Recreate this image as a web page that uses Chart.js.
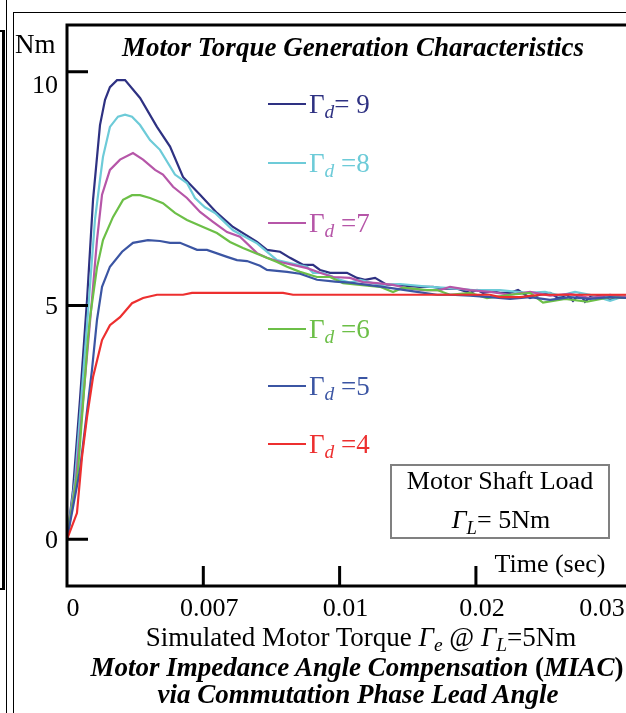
<!DOCTYPE html>
<html>
<head>
<meta charset="utf-8">
<script src="https://cdn.jsdelivr.net/npm/chart.js@4/dist/chart.umd.min.js"></script>
<style>
  body { margin: 0; overflow: hidden; background: #fff; }
  #wrap { position: relative; width: 626px; height: 713px; overflow: hidden; font-family: "Liberation Serif", "Times New Roman", serif; }
  canvas { position: absolute; left: 0; top: 0; }
  .t { position: absolute; white-space: nowrap; color: #000; font-size: 26px; line-height: 1; transform: translate(-50%, -50%); }
  .l { transform: translate(0, -50%); }
  .bi { font-weight: bold; font-style: italic; }
  sub { font-size: 0.72em; font-style: italic; vertical-align: -0.3em; line-height: 0; }
  .g { font-style: italic; }
  .vl { position: absolute; background: #000; }
  #box { position: absolute; left: 390px; top: 464px; width: 216px; height: 71px; border: 2px solid #808080; }
</style>
</head>
<body>
<div id="wrap">
  <canvas id="torqueChart" width="626" height="713"></canvas>

  <div class="vl" style="left:13px;top:12px;width:1px;height:701px"></div>
  <div class="vl" style="left:13px;top:12px;width:613px;height:1px"></div>
  <div class="vl" style="left:2px;top:30px;width:3px;height:560px"></div>
  <div class="vl" style="left:0;top:30px;width:5px;height:2px"></div>
  <div class="vl" style="left:0;top:588px;width:5px;height:2px"></div>
  <div class="vl" style="left:6px;top:0;width:1px;height:713px"></div>

  <div class="t l" style="left:15px;top:44px;font-size:27px">Nm</div>
  <div class="t bi" style="left:353px;top:47px;font-size:27px">Motor Torque Generation Characteristics</div>
  <div id="legend"></div>
  <div id="box"></div>
  <div class="t" style="left:500px;top:481px">Motor Shaft Load</div>
  <div class="t" style="left:501px;top:520px"><span class="g">Γ</span><sub>L</sub>= 5Nm</div>
  <div class="t" style="left:550px;top:564px">Time (sec)</div>
  <div class="t" style="left:361px;top:637px;font-size:27px">Simulated Motor Torque <span class="g">Γ</span><sub>e</sub> @ <span class="g">Γ</span><sub>L</sub>=5Nm</div>
  <div class="t bi" style="left:357px;top:667px;font-size:27px">Motor Impedance Angle Compensation <span style="font-style:normal">(</span>MIAC<span style="font-style:normal">)</span></div>
  <div class="t bi" style="left:358px;top:694px;font-size:27px">via Commutation Phase Lead Angle</div>
</div>

<script>
// x axis is drawn on even-ish spacing, labels as printed in the figure
const xTickPos = [0, 1, 2, 3, 3.88];
const xTickLabels = ['0', '0.007', '0.01', '0.02', '0.03'];
const yTicks = [0, 5, 10];

const gammaD = ['9', '8', '7', '6', '5', '4'];
const lineColors = ['#2e3182', '#6dcbd8', '#b656a8', '#6cbf47', '#3b55a3', '#ed2f2f'];

// [x position on axis, torque Nm]
const torque9 = [[0,0],[0.044,1.05],[0.095,2.98],[0.147,5.12],[0.191,7.26],[0.242,8.86],[0.279,9.40],[0.315,9.67],[0.367,9.82],[0.426,9.82],[0.536,9.44],[0.660,8.82],[0.756,8.40],[0.851,7.75],[0.976,7.37],[1.10,6.98],[1.218,6.68],[1.394,6.36],[1.467,6.19],[1.563,6.15],[1.636,6.02],[1.731,5.87],[1.805,5.87],[1.856,5.76],[1.930,5.70],[2.054,5.70],[2.128,5.59],[2.186,5.55],[2.260,5.59],[2.348,5.44],[2.443,5.44],[2.494,5.42],[2.590,5.40],[2.685,5.40],[2.759,5.36],[2.861,5.36],[2.957,5.27],[3.008,5.33],[3.052,5.27],[3.125,5.30],[3.177,5.27],[3.250,5.27],[3.309,5.33],[3.397,5.16],[3.470,5.23],[3.544,5.27],[3.602,5.16],[3.668,5.23],[3.712,5.10],[3.764,5.25],[3.800,5.08],[3.837,5.18],[3.911,5.21],[3.984,5.12],[4.035,5.16],[4.101,5.18]];
const torque8 = [[0,0],[0.059,1.27],[0.161,5.12],[0.205,6.83],[0.242,7.69],[0.264,8.18],[0.315,8.82],[0.374,9.04],[0.426,9.08],[0.477,9.04],[0.536,8.86],[0.609,8.54],[0.682,8.33],[0.792,7.80],[0.880,7.62],[0.939,7.30],[1.012,7.10],[1.086,6.98],[1.218,6.61],[1.394,6.33],[1.541,5.97],[1.636,5.91],[1.761,5.83],[1.805,5.70],[1.878,5.70],[2.003,5.55],[2.076,5.49],[2.150,5.55],[2.296,5.44],[2.443,5.46],[2.663,5.40],[2.810,5.37],[2.979,5.33],[3.177,5.33],[3.375,5.27],[3.507,5.29],[3.617,5.21],[3.727,5.29],[3.837,5.23],[3.984,5.10],[4.101,5.21]];
const torque7 = [[0,0],[0.066,1.27],[0.183,5.12],[0.220,6.40],[0.257,7.37],[0.315,7.90],[0.389,8.12],[0.484,8.26],[0.558,8.12],[0.646,7.90],[0.704,7.80],[0.778,7.54],[0.880,7.30],[0.976,7.00],[1.071,6.79],[1.174,6.57],[1.269,6.47],[1.394,6.12],[1.467,6.02],[1.563,5.93],[1.658,5.87],[1.761,5.80],[1.856,5.70],[1.952,5.61],[2.076,5.59],[2.172,5.50],[2.274,5.48],[2.392,5.44],[2.494,5.37],[2.612,5.33],[2.737,5.33],[2.810,5.40],[2.957,5.33],[3.103,5.29],[3.250,5.23],[3.397,5.29],[3.544,5.21],[3.690,5.25],[3.837,5.16],[3.984,5.23],[4.101,5.18]];
const torque6 = [[0,0],[0.081,1.48],[0.154,4.31],[0.169,4.74],[0.220,5.81],[0.264,6.40],[0.337,6.89],[0.411,7.26],[0.477,7.36],[0.536,7.36],[0.609,7.30],[0.704,7.19],[0.792,6.98],[0.880,6.83],[0.998,6.68],[1.100,6.55],[1.196,6.36],[1.291,6.23],[1.416,6.08],[1.541,5.93],[1.614,5.83],[1.709,5.72],[1.834,5.61],[1.930,5.61],[2.025,5.48],[2.150,5.44],[2.296,5.40],[2.392,5.29],[2.465,5.38],[2.641,5.33],[2.715,5.33],[2.810,5.23],[2.957,5.27],[3.081,5.16],[3.250,5.23],[3.397,5.27],[3.492,5.06],[3.654,5.14],[3.815,5.08],[3.984,5.18],[4.101,5.16]];
const torque5 = [[0,0],[0.095,1.48],[0.183,3.62],[0.220,4.69],[0.257,5.40],[0.315,5.83],[0.404,6.15],[0.484,6.34],[0.594,6.40],[0.682,6.38],[0.756,6.34],[0.829,6.34],[0.954,6.19],[1.027,6.19],[1.174,6.04],[1.247,5.97],[1.321,5.95],[1.416,5.85],[1.467,5.76],[1.614,5.72],[1.709,5.68],[1.834,5.55],[1.966,5.51],[2.076,5.49],[2.318,5.40],[2.568,5.29],[2.715,5.23],[2.810,5.23],[2.957,5.21],[3.103,5.18],[3.250,5.14],[3.397,5.18],[3.544,5.12],[3.690,5.18],[3.837,5.14],[3.984,5.18],[4.101,5.16]];
const torque4 = [[0,0],[0.073,0.56],[0.110,1.76],[0.147,2.62],[0.191,3.47],[0.257,4.26],[0.315,4.58],[0.389,4.75],[0.477,5.05],[0.558,5.16],[0.660,5.23],[0.851,5.23],[0.917,5.27],[1.416,5.27],[1.585,5.27],[1.658,5.23],[2.076,5.23],[2.810,5.23],[3.103,5.23],[3.177,5.18],[3.324,5.18],[3.470,5.23],[4.101,5.23]];

const allSeries = [torque9, torque8, torque7, torque6, torque5, torque4];

// frame, inner tick marks and y labels like the printed plot
const framePlugin = {
    id: 'frame',
    afterDraw(chart) {
        const { ctx, chartArea: a, scales: { x, y } } = chart;
        ctx.save();
        ctx.strokeStyle = '#000';
        ctx.lineWidth = 3;
        ctx.beginPath();
        ctx.moveTo(a.right + 5, a.top);
        ctx.lineTo(a.left, a.top);
        ctx.lineTo(a.left, a.bottom);
        ctx.lineTo(a.right + 5, a.bottom);
        yTicks.forEach(v => {
            const p = y.getPixelForValue(v);
            ctx.moveTo(a.left, p);
            ctx.lineTo(a.left + 21, p);
        });
        xTickPos.slice(1, 4).forEach(v => {
            const p = x.getPixelForValue(v);
            ctx.moveTo(p, a.bottom);
            ctx.lineTo(p, a.bottom - 20);
        });
        ctx.stroke();

        // the top label sits a little under its tick in the original
        ctx.fillStyle = '#000';
        ctx.font = '26px "Liberation Serif"';
        ctx.textAlign = 'right';
        ctx.textBaseline = 'middle';
        yTicks.forEach(v => {
            const p = y.getPixelForValue(v) + (v === 10 ? 14 : 2);
            ctx.fillText(String(v), a.left - 9, p);
        });
        ctx.restore();
    }
};

document.addEventListener('DOMContentLoaded', function () {
    const ctx = document.getElementById('torqueChart');

    new Chart(ctx, {
        type: 'line',
        data: {
            datasets: allSeries.map((s, i) => ({
                label: 'Γd = ' + gammaD[i],
                data: s.map(p => ({ x: p[0], y: p[1] })),
                borderColor: lineColors[i],
                borderWidth: 2.2,
                pointRadius: 0,
                tension: 0,
                fill: false
            })).reverse()
        },
        options: {
            responsive: false,
            animation: false,
            layout: { padding: { top: 25, right: 0, left: 0, bottom: 0 } },
            plugins: { legend: { display: false }, tooltip: { enabled: false } },
            scales: {
                x: {
                    type: 'linear',
                    min: 0,
                    max: 4.101,
                    grid: { display: false, drawTicks: false },
                    border: { display: false },
                    afterBuildTicks: s => { s.ticks = xTickPos.map(v => ({ value: v })); },
                    afterFit: s => { s.height = 127; s.paddingLeft = 0; s.paddingRight = 0; },
                    ticks: {
                        autoSkip: false,
                        maxRotation: 0,
                        padding: 8,
                        labelOffset: 6,
                        color: '#000',
                        font: { family: 'Liberation Serif', size: 26 },
                        callback: (v) => xTickLabels[xTickPos.indexOf(v)]
                    }
                },
                y: {
                    min: -1,
                    max: 11,
                    grid: { display: false, drawTicks: false },
                    border: { display: false },
                    afterBuildTicks: s => { s.ticks = yTicks.map(v => ({ value: v })); },
                    afterFit: s => { s.width = 67; },
                    ticks: { display: false }
                }
            }
        },
        plugins: [framePlugin]
    });

    // legend beside the curves
    const legendY = [104, 163, 223, 329, 386, 444];
    const leg = document.getElementById('legend');
    gammaD.forEach((g, i) => {
        const line = document.createElement('div');
        line.className = 'vl';
        line.style.cssText = `left:268px;top:${legendY[i] - 1}px;width:38px;height:2px;background:${lineColors[i]}`;
        leg.appendChild(line);
        const txt = document.createElement('div');
        txt.className = 't l';
        txt.style.cssText = `left:309px;top:${legendY[i]}px;color:${lineColors[i]};font-size:27px`;
        txt.innerHTML = i === 0 ? `Γ<sub>d</sub>= ${g}` : (i === 1 ? `Γ<sub>d</sub> =${g}` : `Γ<sub>d</sub>&nbsp;=${g}`);
        leg.appendChild(txt);
    });
});
</script>
</body>
</html>
